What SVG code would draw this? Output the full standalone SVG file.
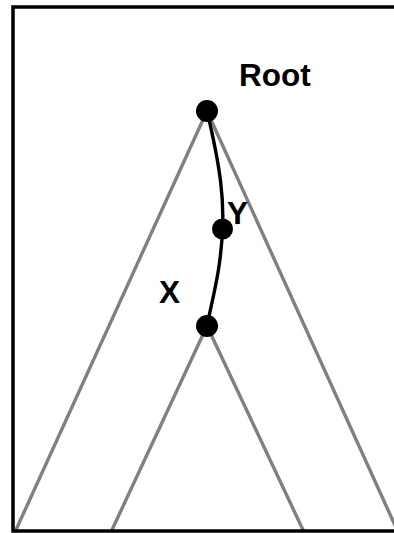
<svg xmlns="http://www.w3.org/2000/svg" width="394" height="533" viewBox="0 0 394 533">
<style>
.gray{stroke:#808080;stroke-width:3.4;fill:none}
.path{stroke:#000;stroke-width:3.4;fill:none}
.node{fill:#000}
.lbl{font-family:"Liberation Sans",Arial,sans-serif;font-weight:bold;font-size:31.5px;fill:#000}
</style>
<rect x="0" y="0" width="394" height="533" fill="#fff"/>
<g id="tree-lines">
<line class="gray" x1="207" y1="111" x2="15" y2="532"/>
<line class="gray" x1="207" y1="111" x2="398" y2="532"/>
<line class="gray" x1="207" y1="326" x2="111" y2="532"/>
<line class="gray" x1="207" y1="326" x2="304" y2="532"/>
</g>
<g id="connectors">
<path class="path" d="M207,111 C221,170 224,200 222.5,229 C221,270 212,300 207,326"/>
</g>
<g id="root"><circle class="node" cx="207" cy="111" r="11"/><text class="lbl" x="239" y="86">Root</text></g>
<g id="y"><circle class="node" cx="222.5" cy="229" r="10.5"/><text class="lbl" x="227" y="224">Y</text></g>
<g id="x"><circle class="node" cx="207" cy="326" r="11"/><text class="lbl" x="159" y="303">X</text></g>
<rect x="13" y="7" width="400" height="524" fill="none" stroke="#000" stroke-width="3.5"/>
</svg>
